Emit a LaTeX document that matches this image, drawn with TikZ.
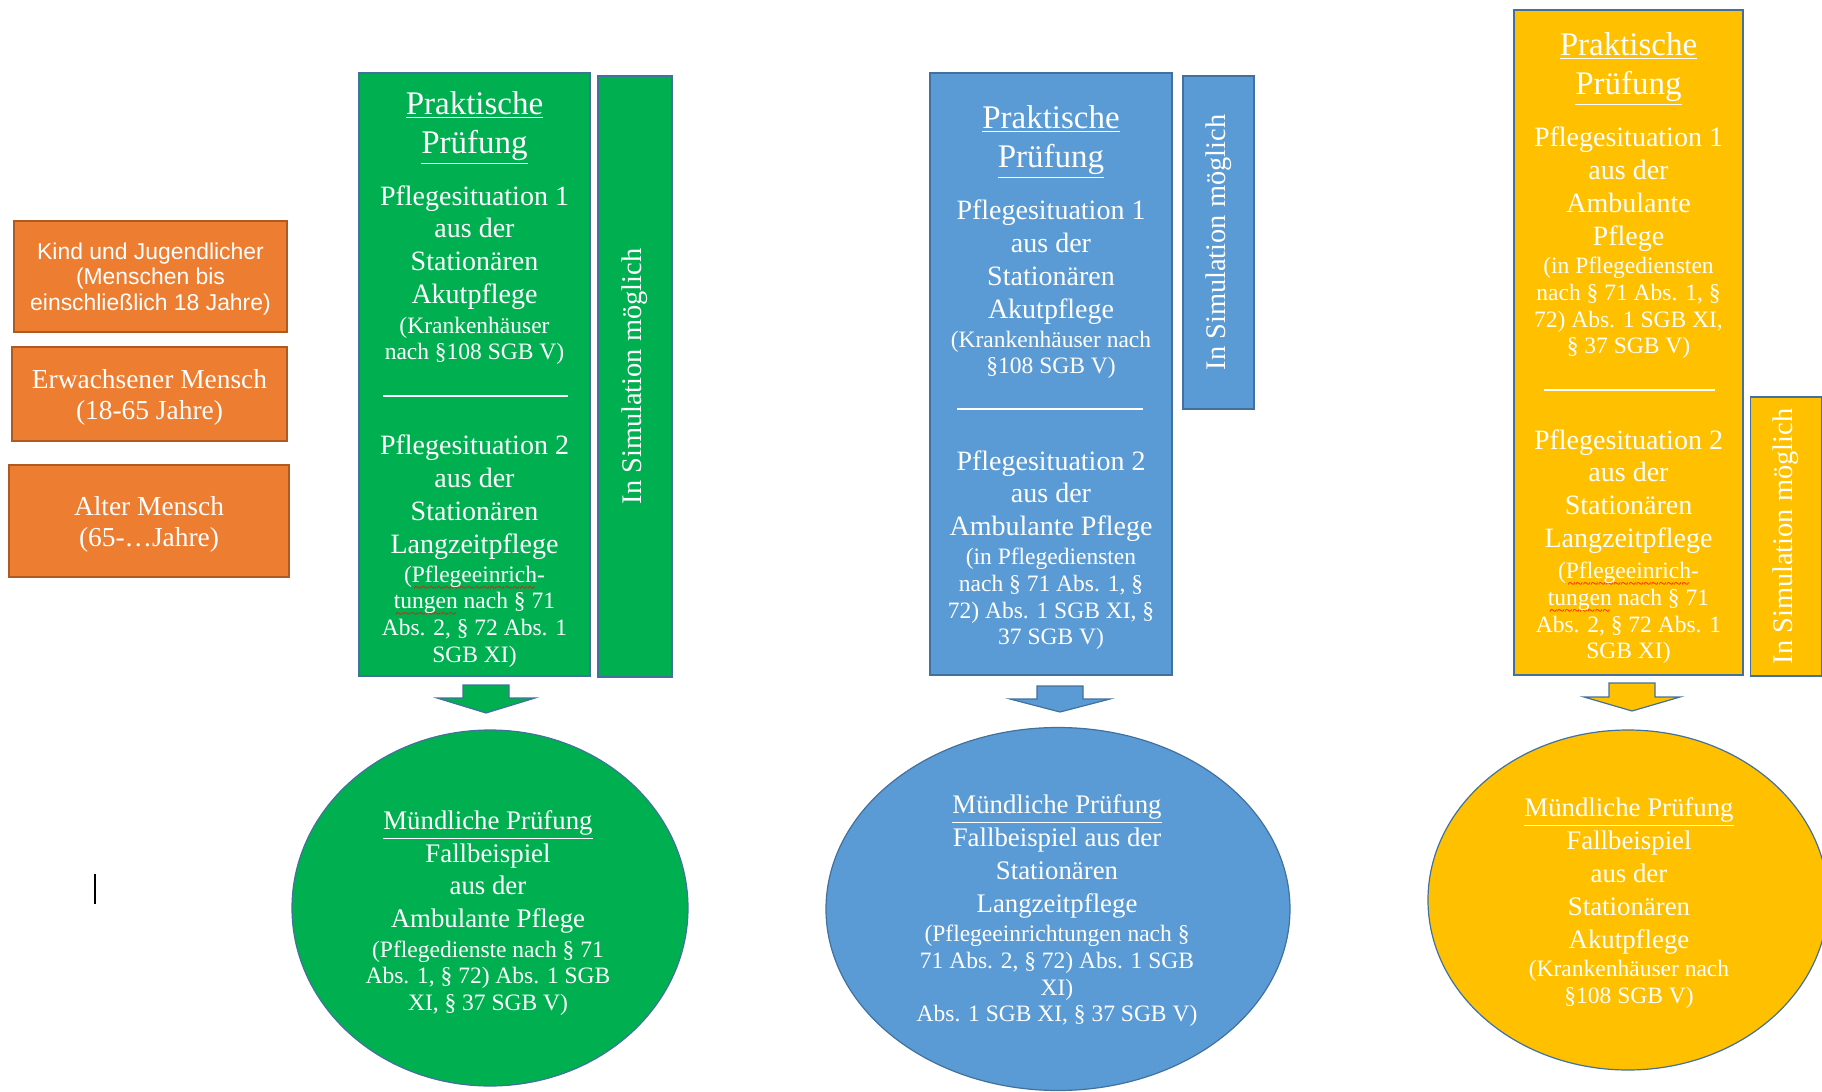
\documentclass[tikz,border=0pt]{standalone}
\usepackage{fontspec}
\setmainfont{Liberation Serif}
\newfontfamily\arialfont{Liberation Sans}
\usetikzlibrary{shapes.geometric}

\definecolor{pgreen}{HTML}{00B050}
\definecolor{pblue}{HTML}{5B9BD5}
\definecolor{pyellow}{HTML}{FFC000}
\definecolor{porange}{HTML}{ED7D31}
\definecolor{pline}{HTML}{41719C}
\definecolor{oline}{HTML}{AE5A21}

\newsavebox\wavebox
\newcommand{\redwave}[1]{\sbox\wavebox{#1}\rlap{\raisebox{-5pt}[0pt][0pt]{\hbox to \wd\wavebox{\color{red}\fontsize{7}{7}\selectfont\cleaders\hbox{\char`\~}\hfill}}}#1}

\tikzset{
  pbox/.style={draw=pline, line width=0.6pt, rectangle},
  obox/.style={draw=oline, fill=porange, line width=0.6pt, rectangle},
  pellipse/.style={ellipse, draw=pline, line width=0.6pt},
  headtext/.style={font=\fontsize{16.5}{19.5}\selectfont},
  bigtext/.style={font=\fontsize{14}{16.4}\selectfont},
  smalltext/.style={font=\fontsize{11.75}{13.3}\selectfont},
  ellbigtext/.style={font=\fontsize{13.4}{16.4}\selectfont},
  sidebox/.style={pbox, rotate=90, font=\fontsize{14.2}{17}\selectfont},
  divider/.style={white, line width=0.8pt},
  blockarrow/.style={draw=pline, line width=0.6pt}
}

\begin{document}
\begin{tikzpicture}[x=0.5pt, y=-0.5pt, every node/.style={text=white, align=center, inner sep=0pt}]
    \useasboundingbox (0,0) rectangle (1822,1092);

    % age groups
    \node[obox, minimum width=136.5pt, minimum height=55.5pt, font={\arialfont\fontsize{11.45}{12.75}\selectfont}, text depth=-3pt] (kind) at (150.5,276.5) {Kind und Jugendlicher\\(Menschen bis\\einschließlich 18 Jahre)};
    \node[obox, minimum width=137.5pt, minimum height=47pt, font=\fontsize{13.7}{15.5}\selectfont, text depth=-4pt] (erw) at (149.5,394) {Erwachsener Mensch\\(18-65 Jahre)};
    \node[obox, minimum width=140pt, minimum height=56pt, font=\fontsize{13.7}{15.5}\selectfont, text depth=-3pt] (alt) at (149,521) {Alter Mensch\\(65-…Jahre)};

    % first column
    \node[pbox, fill=pgreen, minimum width=115.5pt, minimum height=301.5pt] (boxG) at (474.5,374.5) {};
    \node[sidebox, fill=pgreen, minimum width=300.5pt, minimum height=37pt] (simG) at (635,376.5) {In Simulation möglich};
    \node[headtext] (headG) at (474.5,128) {\underline{Praktische}\\\underline{Prüfung}};
    \node[bigtext] (g1) at (474.5,247.5) {Pflegesituation 1\\aus der\\Stationären\\Akutpflege};
    \node[smalltext] (g1s) at (474.5,341) {(Krankenhäuser\\nach §108 SGB V)};
    \draw[divider] (383,396) -- (568,396);
    \node[bigtext] (g2) at (474.5,497) {Pflegesituation 2\\aus der\\Stationären\\Langzeitpflege};
    \node[smalltext] (g2s) at (474.5,616.5) {(\redwave{Pflegeeinrich}-\\\redwave{tungen} nach § 71\\Abs. 2, § 72 Abs. 1\\SGB XI)};
    \coordinate (aG) at (486,685);
    \filldraw[blockarrow, fill=pgreen] (aG) ++(-23,0) -- ++(46,0) -- ++(0,13) -- ++(26,0) -- ++(-49,15) -- ++(-49,-15) -- ++(26,0) -- cycle;
    \node[pellipse, fill=pgreen, minimum width=198pt, minimum height=178pt] (oralG) at (490,908) {};
    \node[ellbigtext] (eg1) at (488,872) {\underline{Mündliche Prüfung}\\Fallbeispiel\\aus der\\Ambulante Pflege};
    \node[smalltext] (eg1s) at (488,978) {(Pflegedienste nach § 71\\Abs. 1, § 72) Abs. 1 SGB\\XI, § 37 SGB V)};

    % second column
    \node[pbox, fill=pblue, minimum width=121pt, minimum height=301pt] (boxB) at (1051,374) {};
    \node[sidebox, fill=pblue, minimum width=166.5pt, minimum height=35.5pt] (simB) at (1218.5,242.5) {In Simulation möglich};
    \node[headtext] (headB) at (1051,142) {\underline{Praktische}\\\underline{Prüfung}};
    \node[bigtext] (b1) at (1051,262) {Pflegesituation 1\\aus der\\Stationären\\Akutpflege};
    \node[smalltext] (b1s) at (1051,355) {(Krankenhäuser nach\\§108 SGB V)};
    \draw[divider] (957,409) -- (1143,409);
    \node[bigtext] (b2) at (1051,496) {Pflegesituation 2\\aus der\\Ambulante Pflege};
    \node[smalltext] (b2s) at (1051,599) {(in Pflegediensten\\nach § 71 Abs. 1, §\\72) Abs. 1 SGB XI, §\\37 SGB V)};
    \coordinate (aB) at (1060,686);
    \filldraw[blockarrow, fill=pblue] (aB) ++(-23,0) -- ++(46,0) -- ++(0,13) -- ++(27,0) -- ++(-50,13) -- ++(-50,-13) -- ++(27,0) -- cycle;
    \node[pellipse, fill=pblue, minimum width=232pt, minimum height=181.5pt] (oralB) at (1058,909) {};
    \node[ellbigtext] (eb1) at (1057,856.5) {\underline{Mündliche Prüfung}\\Fallbeispiel aus der\\Stationären\\Langzeitpflege};
    \node[smalltext] (eb1s) at (1057,976) {(Pflegeeinrichtungen nach §\\71 Abs. 2, § 72) Abs. 1 SGB\\XI)\\Abs. 1 SGB XI, § 37 SGB V)};

    % third column
    \node[pbox, fill=pyellow, minimum width=114.5pt, minimum height=332.5pt] (boxY) at (1628.5,342.5) {};
    \node[sidebox, fill=pyellow, minimum width=139.5pt, minimum height=35.5pt] (simY) at (1786,536.5) {In Simulation möglich};
    \node[headtext] (headY) at (1628.5,69) {\underline{Praktische}\\\underline{Prüfung}};
    \node[bigtext] (y1) at (1628.5,189) {Pflegesituation 1\\aus der\\Ambulante\\Pflege};
    \node[smalltext] (y1s) at (1628.5,308) {(in Pflegediensten\\nach § 71 Abs. 1, §\\72) Abs. 1 SGB XI,\\§ 37 SGB V)};
    \draw[divider] (1544,390) -- (1715,390);
    \node[bigtext] (y2) at (1628.5,491.5) {Pflegesituation 2\\aus der\\Stationären\\Langzeitpflege};
    \node[smalltext] (y2s) at (1628.5,613) {(\redwave{Pflegeeinrich}-\\\redwave{tungen} nach § 71\\Abs. 2, § 72 Abs. 1\\SGB XI)};
    \coordinate (aY) at (1632,683);
    \filldraw[blockarrow, fill=pyellow] (aY) ++(-23,0) -- ++(46,0) -- ++(0,14) -- ++(25,0) -- ++(-48,14) -- ++(-48,-14) -- ++(25,0) -- cycle;
    \node[pellipse, fill=pyellow, minimum width=200pt, minimum height=170pt] (oralY) at (1628,900) {};
    \node[ellbigtext] (ey1) at (1629,876) {\underline{Mündliche Prüfung}\\Fallbeispiel\\aus der\\Stationären\\Akutpflege};
    \node[smalltext] (ey1s) at (1629,984.5) {(Krankenhäuser nach\\§108 SGB V)};

    % stray text cursor
    \coordinate (cur1) at (95,874);
    \coordinate (cur2) at (95,904);
    \draw[black, line width=0.6pt] (cur1) -- (cur2);
\end{tikzpicture}
\end{document}
